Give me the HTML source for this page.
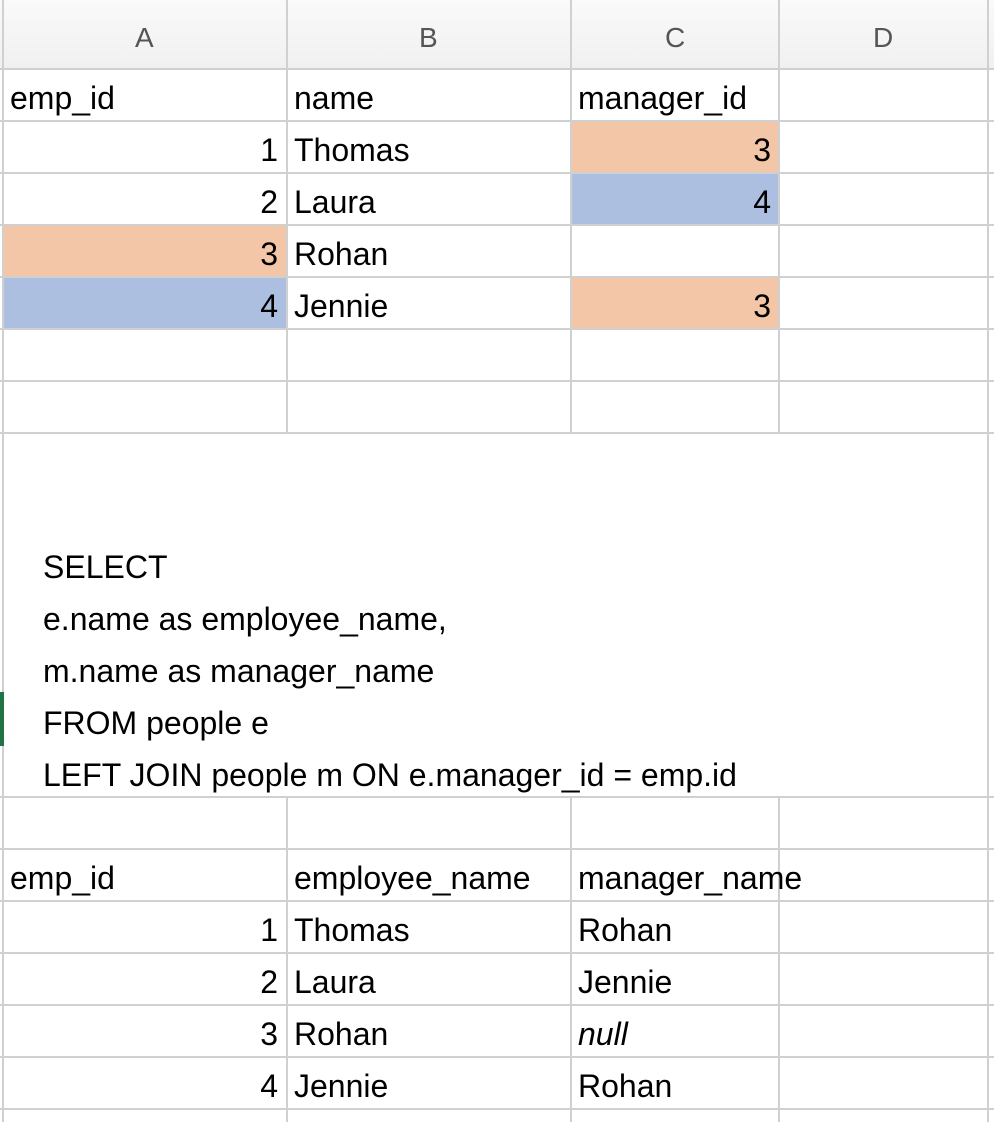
<!DOCTYPE html>
<html><head><meta charset="utf-8"><style>
body{margin:0;width:994px;height:1122px;background:#fff;position:relative;overflow:hidden;font-family:"Liberation Sans",sans-serif;}
.h{position:absolute;left:0;top:0;width:994px;height:69px;background:linear-gradient(#fafafa,#f0f0f0);}
.hl{position:absolute;top:22px;font-size:28px;color:#555;width:0;text-align:center}
.vl{position:absolute;width:2px;background:#d0d0d0}
.hz{position:absolute;height:2px;background:#d0d0d0}
.c{position:absolute;font-size:32px;color:#000;height:52px;line-height:52px;white-space:nowrap}
.r{text-align:right}
.fill{position:absolute}
</style></head><body>
<div class="h"></div>
<div class="hl" style="left:145px"><span style="position:relative;left:-10px">A</span></div>
<div class="hl" style="left:429px"><span style="position:relative;left:-10px">B</span></div>
<div class="hl" style="left:675px"><span style="position:relative;left:-10px">C</span></div>
<div class="hl" style="left:883px"><span style="position:relative;left:-10px">D</span></div>

<div class="fill" style="left:571px;top:122px;width:208px;height:51px;background:#f2c6a6"></div>
<div class="fill" style="left:571px;top:174px;width:208px;height:51px;background:#adbfe0"></div>
<div class="fill" style="left:3px;top:226px;width:284px;height:51px;background:#f2c6a6"></div>
<div class="fill" style="left:3px;top:278px;width:284px;height:51px;background:#adbfe0"></div>
<div class="fill" style="left:571px;top:278px;width:208px;height:51px;background:#f2c6a6"></div>

<div class="hz" style="left:0;top:68px;width:994px"></div>
<div class="hz" style="left:0;top:120px;width:994px"></div>
<div class="hz" style="left:0;top:172px;width:994px"></div>
<div class="hz" style="left:0;top:224px;width:994px"></div>
<div class="hz" style="left:0;top:276px;width:994px"></div>
<div class="hz" style="left:0;top:328px;width:994px"></div>
<div class="hz" style="left:0;top:380px;width:994px"></div>
<div class="hz" style="left:0;top:432px;width:994px"></div>
<div class="hz" style="left:0;top:796px;width:994px"></div>
<div class="hz" style="left:0;top:848px;width:994px"></div>
<div class="hz" style="left:0;top:900px;width:994px"></div>
<div class="hz" style="left:0;top:952px;width:994px"></div>
<div class="hz" style="left:0;top:1004px;width:994px"></div>
<div class="hz" style="left:0;top:1056px;width:994px"></div>
<div class="hz" style="left:0;top:1108px;width:994px"></div>

<div class="vl" style="left:2px;top:0;height:1122px"></div>
<div class="vl" style="left:286px;top:0;height:433px"></div>
<div class="vl" style="left:570px;top:0;height:433px"></div>
<div class="vl" style="left:778px;top:0;height:433px"></div>
<div class="vl" style="left:286px;top:797px;height:325px"></div>
<div class="vl" style="left:570px;top:797px;height:325px"></div>
<div class="vl" style="left:778px;top:797px;height:325px"></div>
<div class="vl" style="left:987px;top:0;height:1122px"></div>
<div class="fill" style="left:0;top:692px;width:4px;height:54px;background:#217346"></div>

<div class="c" style="left:10px;top:72px">emp_id</div>
<div class="c" style="left:294px;top:72px">name</div>
<div class="c" style="left:578px;top:72px">manager_id</div>
<div class="c r" style="left:0;width:278px;top:124px">1</div>
<div class="c r" style="left:0;width:278px;top:176px">2</div>
<div class="c r" style="left:0;width:278px;top:228px">3</div>
<div class="c r" style="left:0;width:278px;top:280px">4</div>
<div class="c" style="left:294px;top:124px">Thomas</div>
<div class="c" style="left:294px;top:176px">Laura</div>
<div class="c" style="left:294px;top:228px">Rohan</div>
<div class="c" style="left:294px;top:280px">Jennie</div>
<div class="c r" style="left:571px;width:200px;top:124px">3</div>
<div class="c r" style="left:571px;width:200px;top:176px">4</div>
<div class="c r" style="left:571px;width:200px;top:280px">3</div>

<div class="c" style="left:43px;top:541px">SELECT</div>
<div class="c" style="left:43px;top:593px">e.name as employee_name,</div>
<div class="c" style="left:43px;top:645px">m.name as manager_name</div>
<div class="c" style="left:43px;top:697px">FROM people e</div>
<div class="c" style="left:43px;top:749px">LEFT JOIN people m ON e.manager_id = emp.id</div>

<div class="c" style="left:10px;top:852px">emp_id</div>
<div class="c" style="left:294px;top:852px">employee_name</div>
<div class="c" style="left:578px;top:852px">manager_name</div>
<div class="c r" style="left:0;width:278px;top:904px">1</div>
<div class="c r" style="left:0;width:278px;top:956px">2</div>
<div class="c r" style="left:0;width:278px;top:1008px">3</div>
<div class="c r" style="left:0;width:278px;top:1060px">4</div>
<div class="c" style="left:294px;top:904px">Thomas</div>
<div class="c" style="left:294px;top:956px">Laura</div>
<div class="c" style="left:294px;top:1008px">Rohan</div>
<div class="c" style="left:294px;top:1060px">Jennie</div>
<div class="c" style="left:578px;top:904px">Rohan</div>
<div class="c" style="left:578px;top:956px">Jennie</div>
<div class="c" style="left:578px;top:1008px;font-style:italic">null</div>
<div class="c" style="left:578px;top:1060px">Rohan</div>
</body></html>
